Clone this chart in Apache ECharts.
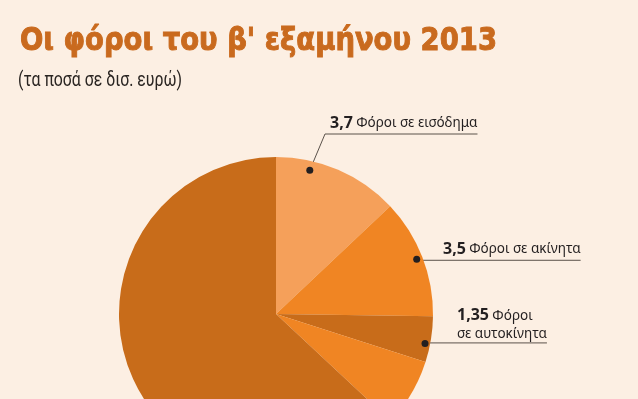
<!DOCTYPE html>
<html>
<head>
<meta charset="utf-8">
<script src="https://cdn.jsdelivr.net/npm/echarts@6/dist/echarts.min.js"></script>
<style>
  html, body { margin: 0; padding: 0; background: #fcefe3; }
  #chart { width: 638px; height: 399px; }
</style>
</head>
<body>
<div id="chart"></div>
<script>
const titleText = 'Οι φόροι του β\' εξαμήνου 2013';
const subtitleText = '(τα ποσά σε δισ. ευρώ)';

// slices, clockwise from 12 o'clock
const names = ['Φόροι σε εισόδημα', 'Φόροι σε ακίνητα', 'Φόροι\nσε αυτοκίνητα', 'Λοιποί φόροι', 'Υπόλοιποι φόροι'];
const values = [3.7, 3.5, 1.35, 2.0, 18.0];
const labelled = [true, true, true, false, false];
const colors = ['#f5a05a', '#f08523', '#c86c1a', '#f08523', '#c86c1a'];

// label placement (text left edge, dot nudge)
const textLeft = [330, 443, 457];
const dotShift = [[-26, -5], [0, 0], [0, 5]];
const firstLineY = 134;

const chart = echarts.init(document.getElementById('chart'));

function fitScale(text, font, target) {
    const ctx = document.createElement('canvas').getContext('2d');
    ctx.font = font;
    return target / ctx.measureText(text).width;
}

const titleFont = 'bold 32px "DejaVu Sans"';
const subFont = '21px Roboto';

const fmtValue = v => String(v).replace('.', ',');

const baseData = names.map((n, i) => ({ name: n, value: values[i], itemStyle: { color: colors[i] } }));

chart.setOption({
    backgroundColor: '#fcefe3',
    animation: false,
    graphic: [
        {
            type: 'text', x: 20, y: 42,
            scaleX: fitScale(titleText, titleFont, 477), originX: 0, originY: 0,
            style: { text: titleText, font: titleFont, fill: '#c96a1e', stroke: '#c96a1e', lineWidth: 1, verticalAlign: 'middle' }
        },
        {
            type: 'text', x: 18, y: 81,
            scaleX: fitScale(subtitleText, subFont, 164), originX: 0, originY: 0,
            style: { text: subtitleText, font: subFont, fill: '#2a2522', verticalAlign: 'middle' }
        }
    ],
    series: [
        {
            type: 'pie',
            center: [276, 314],
            radius: 157,
            silent: true,
            label: { show: false },
            labelLine: { show: false },
            data: baseData
        },
        {
            // dots
            type: 'pie',
            center: [276, 314],
            radius: [140, 156],
            silent: true,
            itemStyle: { color: 'rgba(0,0,0,0)' },
            labelLine: { show: false },
            label: {
                show: true,
                position: 'inside',
                formatter: '{d| }',
                rich: { d: { width: 7, height: 7, borderRadius: 4, backgroundColor: '#231f20', fontSize: 1 } }
            },
            labelLayout: p => labelled[p.dataIndex] ? { dx: dotShift[p.dataIndex][0], dy: dotShift[p.dataIndex][1] } : {},
            data: names.map((n, i) => ({ name: n, value: values[i], label: { show: labelled[i] } }))
        },
        {
            // texts + leader lines
            type: 'pie',
            center: [276, 314],
            radius: 148,
            silent: true,
            avoidLabelOverlap: false,
            itemStyle: { color: 'rgba(0,0,0,0)' },
            label: {
                show: true,
                position: 'outside',
                formatter: p => {
                    const parts = p.name.split('\n');
                    let s = '{v|' + fmtValue(p.value) + '} {t|' + parts[0] + '}';
                    if (parts[1]) s += '\n{t|' + parts[1] + '}';
                    return s;
                },
                rich: {
                    v: { fontFamily: 'Noto Sans', fontWeight: 'bold', fontSize: 16, color: '#231f20', lineHeight: 18 },
                    t: { fontFamily: 'Noto Sans', fontSize: 13.5, color: '#231f20', lineHeight: 18 }
                }
            },
            labelLine: { show: true, length: 10, length2: 10, lineStyle: { color: '#5b524b', width: 1 } },
            labelLayout: p => {
                const i = p.dataIndex;
                if (!labelled[i] || !p.labelLinePoints) return {};
                const a = p.labelLinePoints[0];
                const start = [a[0] + dotShift[i][0], a[1] + dotShift[i][1]];
                const lineY = i === 0 ? firstLineY : start[1];
                const left = textLeft[i];
                const right = left + p.labelRect.width;
                const bend = i === 0 ? [left - 5, lineY] : [start[0], lineY];
                return {
                    x: left, y: lineY - (i === 2 ? 0 : 2), align: 'left', verticalAlign: 'bottom',
                    labelLinePoints: [start, bend, [right, lineY]]
                };
            },
            data: names.map((n, i) => ({ name: n, value: values[i], label: { show: labelled[i] }, labelLine: { show: labelled[i] } }))
        }
    ]
});
</script>
</body>
</html>
